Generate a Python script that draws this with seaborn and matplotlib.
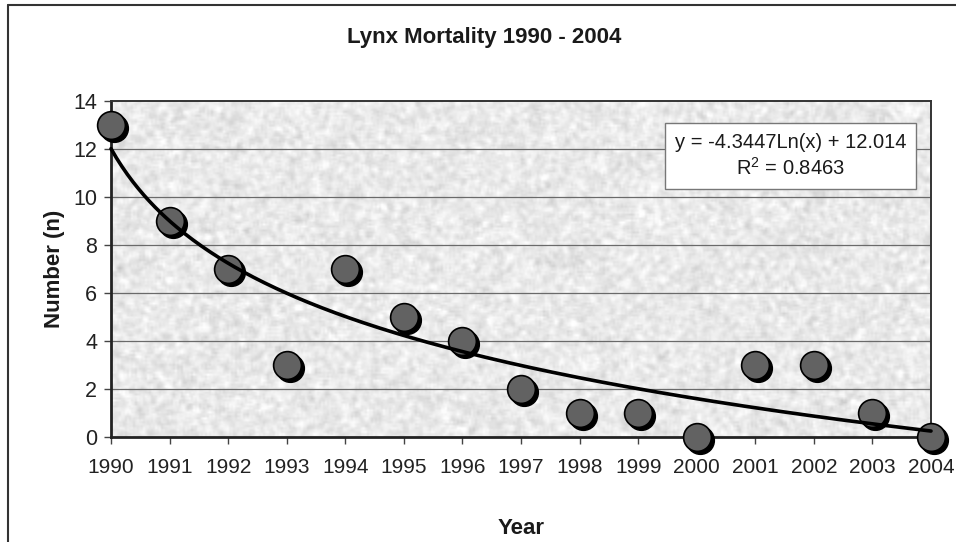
import numpy as np
import pandas as pd
import matplotlib
matplotlib.use("Agg")
import matplotlib.pyplot as plt
import matplotlib.transforms as mtransforms
from matplotlib.lines import Line2D
from numpy.lib.stride_tricks import sliding_window_view
import seaborn as sns

# ---- data ----
years = [1990, 1991, 1992, 1993, 1994, 1995, 1996, 1997, 1998, 1999, 2000, 2001, 2002, 2003, 2004]
deaths = [13, 9, 7, 3, 7, 5, 4, 2, 1, 1, 0, 3, 3, 1, 0]
trend_slope = -4.3447
trend_intercept = 12.014
r_squared = 0.8463
y_ticks = [0, 2, 4, 6, 8, 10, 12, 14]

sns.set_theme(style="white")
plt.rcParams['font.family'] = ['Liberation Sans', 'DejaVu Sans']

df = pd.DataFrame({"Year": years, "Number": deaths})
# logarithmic trendline over the x index (1..n), as in the spreadsheet
idx = np.linspace(1, len(years), 300)
trend = pd.DataFrame({"Year": years[0] + idx - 1,
                      "Number": trend_slope * np.log(idx) + trend_intercept})

fig = plt.figure(figsize=(9.56, 5.42), dpi=100)
ax = fig.add_axes([111/956, 1-437/542, (931-111)/956, (437-101)/542])

# textured light-gray background (decoration only)
rng = np.random.default_rng(3)
noise = rng.normal(0, 1, (170, 410))
pad = np.pad(noise, 1, mode='wrap')
smooth = sliding_window_view(pad, (3, 3)).mean(axis=(-1, -2))
tex = 0.915 + 0.03 * smooth / smooth.std()
ax.imshow(tex, cmap='gray', vmin=0, vmax=1, extent=[1990, 2004, 0, 14],
          aspect='auto', zorder=0, interpolation='bilinear')

for yv in y_ticks[1:-1]:
    ax.axhline(yv, color='#6a6a6a', lw=0.9, zorder=1)

# shadows
shadow_tr = mtransforms.offset_copy(ax.transData, fig=fig, x=3, y=-3, units='dots')
sns.scatterplot(data=df, x="Year", y="Number", ax=ax, s=400, color='black',
                edgecolor='black', linewidth=1.0, transform=shadow_tr,
                zorder=3, clip_on=False, legend=False)
sns.scatterplot(data=df, x="Year", y="Number", ax=ax, s=400, color='#626262',
                edgecolor='black', linewidth=1.2, zorder=4, clip_on=False, legend=False)
sns.lineplot(data=trend, x="Year", y="Number", ax=ax, color='black', lw=2.6,
             zorder=5, clip_on=False)

ax.set_xlim(1990, 2004)
ax.set_ylim(0, 14)
ax.set_xticks(years)
ax.set_xticklabels([str(y) for y in years], fontsize=15, color='#222222')
ax.set_yticks(y_ticks)
ax.set_yticklabels([str(v) for v in y_ticks], fontsize=15.5, color='#222222')
ax.tick_params(axis='both', which='both', direction='out', length=5, width=1,
               color='#444444', bottom=True, left=True)
ax.tick_params(axis='x', pad=10)
ax.tick_params(axis='y', pad=5)
ax.set_xlabel("Year", fontsize=16, fontweight='bold', labelpad=30, color='#1a1a1a')
ax.set_ylabel("Number (n)", fontsize=16, fontweight='bold', labelpad=6, color='#1a1a1a')
for side in ['left', 'bottom']:
    ax.spines[side].set_color('#222222')
    ax.spines[side].set_linewidth(2.0)
for side in ['top', 'right']:
    ax.spines[side].set_color('#333333')
    ax.spines[side].set_linewidth(1.4)
for sp in ax.spines.values():
    sp.set_zorder(2)

fig.text(484/956, 1-37/542, "Lynx Mortality 1990 - 2004", fontsize=16,
         fontweight='bold', ha='center', va='center', color='#1a1a1a')

# trendline label box
eq = f"y = {trend_slope}Ln(x) + {trend_intercept}\n$\\mathregular{{R^2}}$ = {r_squared}"
ax.text((673+908)/2/956, 1-156/542, eq, transform=fig.transFigure, fontsize=14.5,
        ha='center', va='center', linespacing=1.3, color='#1a1a1a', zorder=6,
        bbox=dict(boxstyle='square,pad=0.5', facecolor='white', edgecolor='#777777', lw=1))

# outer chart frame (partially cropped)
fig.add_artist(Line2D([8/956, 8/956], [0, 1-5/542], transform=fig.transFigure,
                      color='#333333', lw=1.5))
fig.add_artist(Line2D([8/956, 1], [1-5/542, 1-5/542], transform=fig.transFigure,
                      color='#333333', lw=1.5))

fig.savefig("out.png", dpi=100)
